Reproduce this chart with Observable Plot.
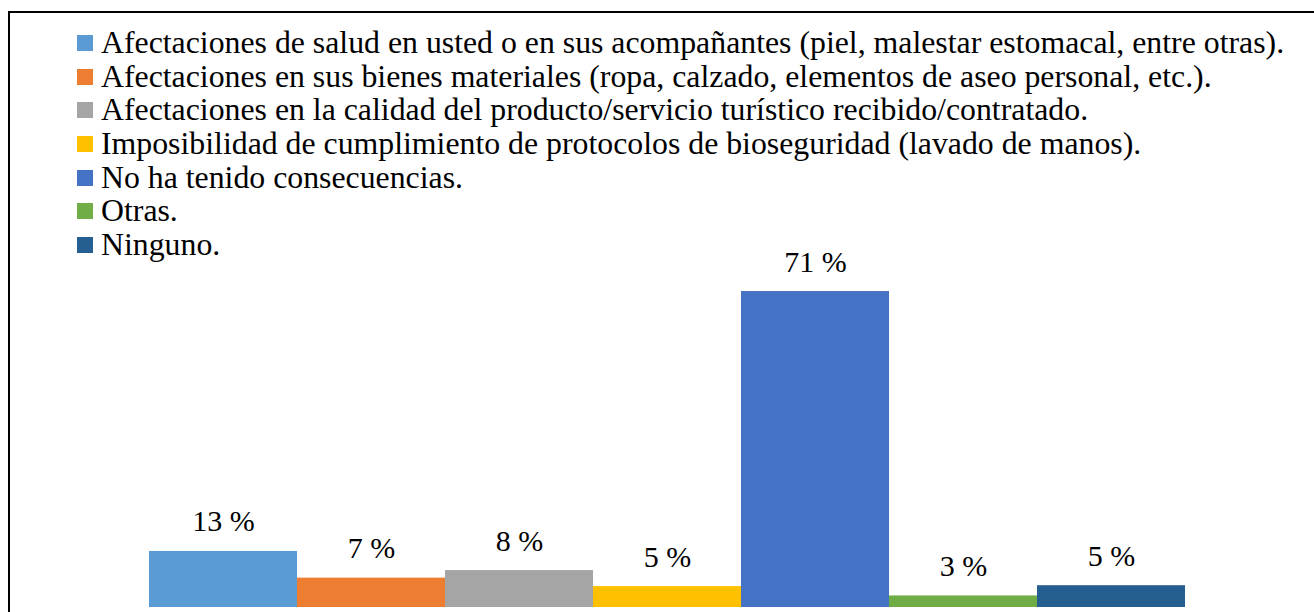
<!DOCTYPE html>
<html>
<head>
<meta charset="utf-8">
<script src="https://cdn.jsdelivr.net/npm/d3@7"></script>
<script src="https://cdn.jsdelivr.net/npm/@observablehq/plot@0.6"></script>
<style>
  html, body { margin: 0; padding: 0; background: #fff; }
  #wrap { position: relative; width: 1314px; height: 612px; overflow: hidden; background: #fff; }
  #frame { position: absolute; left: 8px; top: 11px; width: 1400px; height: 700px; border-left: 2px solid #000; border-top: 2px solid #000; pointer-events: none; }
  #chart { position: absolute; left: 0; top: 0; }
  #legend { position: absolute; left: 77px; top: 26px; font-family: "Liberation Serif", "Times New Roman", serif; font-size: 31.8px; color: #000; }
  .row { display: flex; align-items: center; height: 33.7px; line-height: 33.7px; white-space: nowrap; }
  .sw { width: 16px; height: 16px; margin-right: 8px; flex: none; }
</style>
</head>
<body>
<div id="wrap">
  <div id="chart"></div>
  <div id="legend"></div>
  <div id="frame"></div>
</div>
<script>
const categories = [
  "Afectaciones de salud en usted o en sus acompañantes (piel, malestar estomacal, entre otras).",
  "Afectaciones en sus bienes materiales (ropa, calzado, elementos de aseo personal, etc.).",
  "Afectaciones en la calidad del producto/servicio turístico recibido/contratado.",
  "Imposibilidad de cumplimiento de protocolos de bioseguridad (lavado de manos).",
  "No ha tenido consecuencias.",
  "Otras.",
  "Ninguno."
];
const values = [12.6, 6.6, 8.3, 4.7, 71.0, 2.6, 4.9];
const labels = ["13 %", "7 %", "8 %", "5 %", "71 %", "3 %", "5 %"];
const colors = ["#5B9BD5", "#ED7D31", "#A5A5A5", "#FFC000", "#4472C4", "#70AD47", "#255E91"];

const data = categories.map((c, i) => ({cat: c, value: values[i], label: labels[i]}));

const plot = Plot.plot({
  width: 1314,
  height: 612,
  marginLeft: 149,
  marginRight: 129,
  marginTop: 251,
  marginBottom: 5,
  style: {background: "transparent", fontFamily: "'Liberation Serif', 'Times New Roman', serif"},
  x: {domain: categories, padding: 0, axis: null},
  y: {domain: [0, 80], axis: null},
  color: {domain: categories, range: colors},
  marks: [
    Plot.barY(data, {x: "cat", y: "value", fill: "cat", insetLeft: 0, insetRight: 0}),
    Plot.text(data, {x: "cat", y: "value", text: "label", lineAnchor: "bottom", dy: -20, fontSize: 30, fill: "#000", fontFamily: "Liberation Serif"})
  ]
});
document.getElementById("chart").appendChild(plot);

const legend = document.getElementById("legend");
categories.forEach((c, i) => {
  const row = document.createElement("div");
  row.className = "row";
  const sw = document.createElement("span");
  sw.className = "sw";
  sw.style.background = colors[i];
  const t = document.createElement("span");
  t.textContent = c;
  row.appendChild(sw);
  row.appendChild(t);
  legend.appendChild(row);
});
</script>
</body>
</html>
